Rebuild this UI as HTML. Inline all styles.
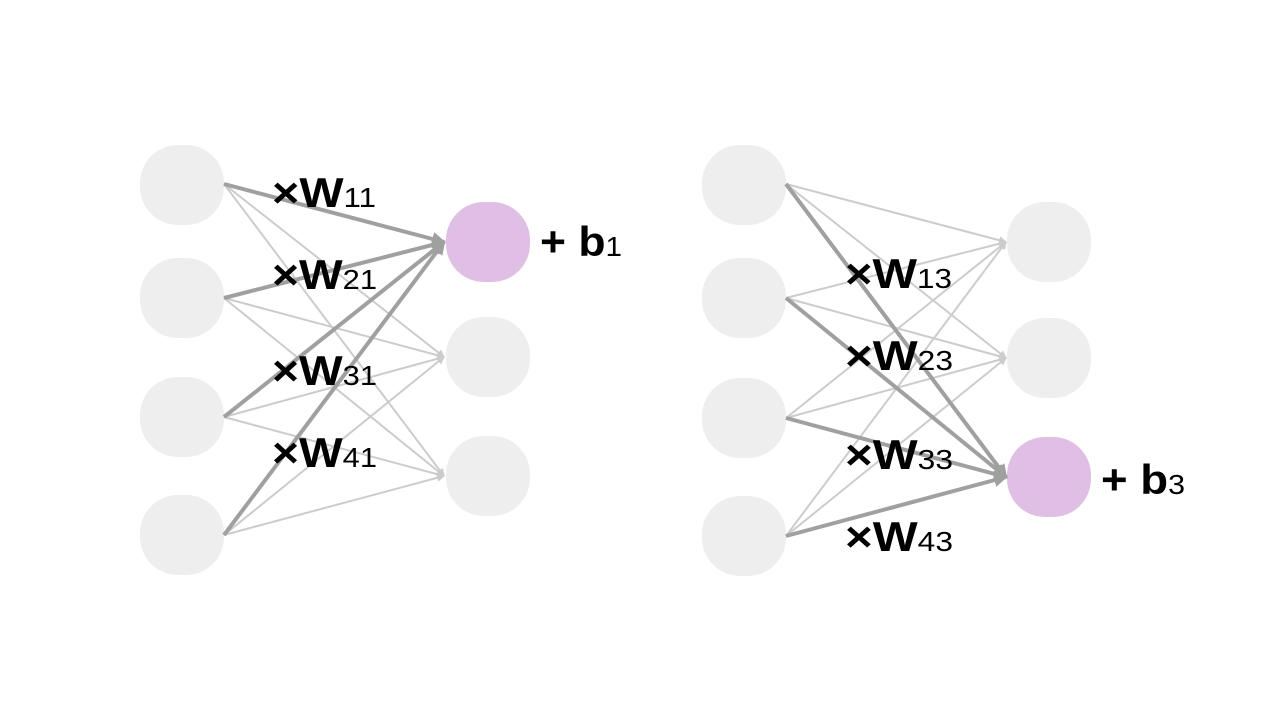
<!DOCTYPE html>
<html><head><meta charset="utf-8"><style>
html,body{margin:0;padding:0;background:#fff;width:1280px;height:720px;overflow:hidden}
text{font-family:"Liberation Sans","DejaVu Sans",sans-serif;font-weight:bold;fill:#000}
.s{font-weight:normal;font-size:28px}
</style></head><body>
<svg width="1280" height="720" viewBox="0 0 1280 720" xmlns="http://www.w3.org/2000/svg">
<defs>
<marker id="al" markerWidth="8" markerHeight="8" refX="7" refY="4" orient="auto" markerUnits="userSpaceOnUse"><path d="M0,0 L8,4 L0,8 z" fill="#cccccc"/></marker>
<marker id="ad" markerWidth="14" markerHeight="14" refX="12" refY="7" orient="auto" markerUnits="userSpaceOnUse"><path d="M0,0 L14,7 L0,14 z" fill="#a0a0a0"/></marker>
</defs>
<g fill="#eeeeee">
<rect x="140" y="145" width="84" height="80" rx="38"/>
<rect x="140" y="258" width="84" height="80" rx="38"/>
<rect x="140" y="377" width="84" height="80" rx="38"/>
<rect x="140" y="495" width="84" height="80" rx="38"/>
<rect x="446" y="317" width="84" height="80" rx="38"/>
<rect x="446" y="436" width="84" height="80" rx="38"/>
<rect x="702" y="145" width="84" height="80" rx="38"/>
<rect x="702" y="258" width="84" height="80" rx="38"/>
<rect x="702" y="378" width="84" height="80" rx="38"/>
<rect x="702" y="496" width="84" height="80" rx="38"/>
<rect x="1007" y="202" width="84" height="80" rx="38"/>
<rect x="1007" y="318" width="84" height="80" rx="38"/>
</g>
<g fill="#dfbfe3">
<rect x="446" y="202" width="84" height="80" rx="38"/>
<rect x="1007" y="437" width="84" height="80" rx="38"/>
</g>
<g stroke="#cccccc" stroke-width="2" marker-end="url(#al)">
<line x1="224" y1="184" x2="444" y2="357"/><line x1="224" y1="184" x2="444" y2="476"/>
<line x1="224" y1="298" x2="444" y2="357"/><line x1="224" y1="298" x2="444" y2="476"/>
<line x1="224" y1="417" x2="444" y2="357"/><line x1="224" y1="417" x2="444" y2="476"/>
<line x1="224" y1="535" x2="444" y2="357"/><line x1="224" y1="535" x2="444" y2="476"/>
<line x1="786" y1="184" x2="1006" y2="242"/><line x1="786" y1="184" x2="1006" y2="358"/>
<line x1="786" y1="298" x2="1006" y2="242"/><line x1="786" y1="298" x2="1006" y2="358"/>
<line x1="786" y1="418" x2="1006" y2="242"/><line x1="786" y1="418" x2="1006" y2="358"/>
<line x1="786" y1="536" x2="1006" y2="242"/><line x1="786" y1="536" x2="1006" y2="358"/>
</g>
<g stroke="#a0a0a0" stroke-width="4" marker-end="url(#ad)">
<line x1="224" y1="184" x2="444" y2="242"/><line x1="224" y1="298" x2="444" y2="242"/>
<line x1="224" y1="417" x2="444" y2="242"/><line x1="224" y1="535" x2="444" y2="242"/>
<line x1="786" y1="184" x2="1006" y2="477"/><line x1="786" y1="298" x2="1006" y2="477"/>
<line x1="786" y1="418" x2="1006" y2="477"/><line x1="786" y1="536" x2="1006" y2="477"/>
</g>
<g font-size="42">
<text x="272" y="207" textLength="104" lengthAdjust="spacingAndGlyphs">×W<tspan class="s">11</tspan></text>
<text x="272" y="289" textLength="105" lengthAdjust="spacingAndGlyphs">×W<tspan class="s">21</tspan></text>
<text x="272" y="385" textLength="105" lengthAdjust="spacingAndGlyphs">×W<tspan class="s">31</tspan></text>
<text x="272" y="467" textLength="105" lengthAdjust="spacingAndGlyphs">×W<tspan class="s">41</tspan></text>
<text x="540" y="256" textLength="82" lengthAdjust="spacingAndGlyphs">+ b<tspan class="s">1</tspan></text>
<text x="845" y="288" textLength="107" lengthAdjust="spacingAndGlyphs">×W<tspan class="s">13</tspan></text>
<text x="845" y="370" textLength="108" lengthAdjust="spacingAndGlyphs">×W<tspan class="s">23</tspan></text>
<text x="845" y="469" textLength="108" lengthAdjust="spacingAndGlyphs">×W<tspan class="s">33</tspan></text>
<text x="845" y="551" textLength="108" lengthAdjust="spacingAndGlyphs">×W<tspan class="s">43</tspan></text>
<text x="1101" y="494" textLength="84" lengthAdjust="spacingAndGlyphs">+ b<tspan class="s">3</tspan></text>
</g>
</svg>
</body></html>
